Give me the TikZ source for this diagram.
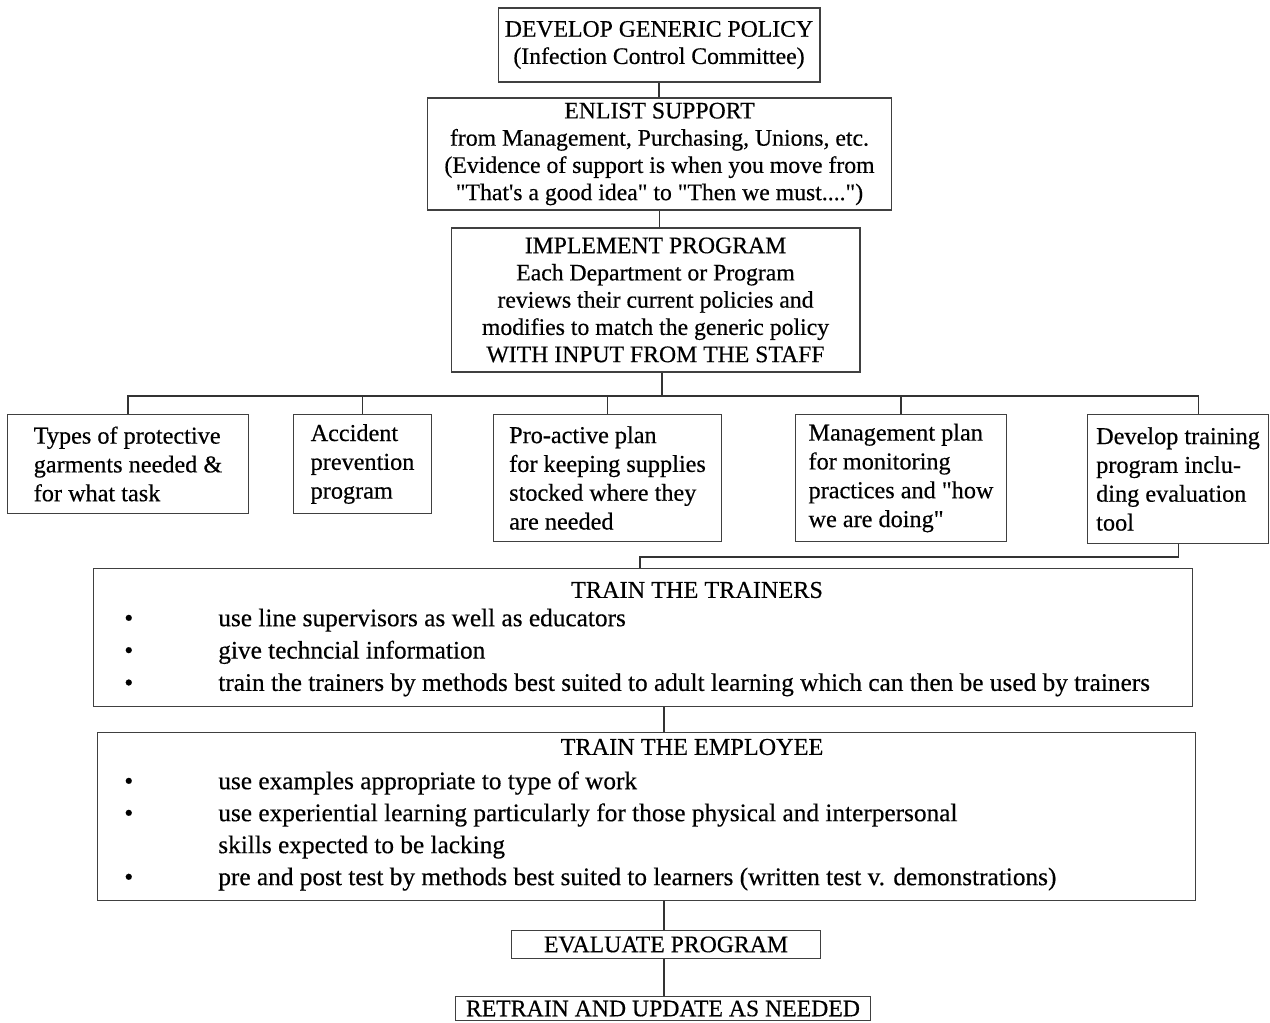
\documentclass[tikz,border=0pt]{standalone}
\usepackage{fontspec}
\setmainfont{Liberation Serif}[Ligatures=TeXOff,FakeBold=0.4]
\usetikzlibrary{calc}
\tikzset{
  box/.style={draw=black!75, line width=0.6pt, inner sep=0pt, align=center,
    font=\fontsize{13.5}{15.5}\selectfont},
  item/.style={box, anchor=north west, align=left, font=\fontsize{13.8}{16.4}\selectfont},
  head/.style={inner sep=0pt, font=\fontsize{13.8}{15.5}\selectfont},
  list/.style={anchor=west, align=left, inner sep=0pt},
  wire/.style={draw=black!80, line width=0.6pt}
}
\newcommand{\bul}{\makebox[1.88cm][l]{\textbullet}}
\newcommand{\gap}{\makebox[1.88cm]{}}
\begin{document}
\begin{tikzpicture}[x=0.02cm,y=-0.02cm]
\useasboundingbox (0,0) rectangle (1270,1023);
% policy, support, program
\node[box,minimum width=6.44cm,minimum height=1.48cm] (policy) at (659,45) {DEVELOP GENERIC POLICY\\(Infection Control Committee)};
\node[box,minimum width=9.3cm,minimum height=2.24cm] (support) at (659.5,154) {ENLIST SUPPORT\\from Management, Purchasing, Unions, etc.\\(Evidence of support is when you move from\\"That's a good idea" to "Then we must....")};
\node[box,minimum width=8.18cm,minimum height=2.88cm] (implement) at (655.5,300) {IMPLEMENT PROGRAM\\Each Department or Program\\reviews their current policies and\\modifies to match the generic policy\\WITH INPUT FROM THE STAFF};
% the five tasks
\node[item,minimum width=4.82cm,minimum height=1.98cm] (garments) at (7,414) {Types of protective\\garments needed \&\\for what task};
\node[item,minimum width=2.76cm,minimum height=1.98cm] (accident) at (293,414) {Accident\\prevention\\program};
\node[item,minimum width=4.56cm,minimum height=2.54cm] (supplies) at (493,414) {Pro-active plan\\for keeping supplies\\stocked where they\\are needed};
\node[item,minimum width=4.22cm,minimum height=2.54cm] (monitor) at (795,414) {Management plan\\for monitoring\\practices and "how\\we are doing"};
\node[item,minimum width=3.62cm,minimum height=2.58cm] (training) at (1087,414) {Develop training\\program inclu-\\ding evaluation\\tool};
% training boxes
\node[box,anchor=north west,minimum width=21.98cm,minimum height=2.76cm] (trainers) at (93,568) {};
\node[head] (trainers title) at (697,590) {TRAIN THE TRAINERS};
\node[list,font=\fontsize{14.4}{18.4}\selectfont] (trainers list) at (124,652.5) {\bul use line supervisors as well as educators\\\bul give techncial information\\\bul train the trainers by methods best suited to adult learning which can then be used by trainers};
\node[box,anchor=north west,minimum width=21.96cm,minimum height=3.36cm] (employee) at (97,732) {};
\node[head] (employee title) at (692,747) {TRAIN THE EMPLOYEE};
\node[list,font=\fontsize{14.4}{18.2}\selectfont] (employee list) at (124,831) {\bul use examples appropriate to type of work\\\bul use experiential learning particularly for those physical and interpersonal\\\gap skills expected to be lacking\\\bul pre and post test by methods best suited to learners (written test v. demonstrations)};
% last two
\node[box,anchor=north west,minimum width=6.18cm,minimum height=0.56cm] (evaluate) at (511,930) {EVALUATE PROGRAM};
\node[box,anchor=north west,minimum width=8.3cm,minimum height=0.48cm] (retrain) at (455,996) {RETRAIN AND UPDATE AS NEEDED};
% connectors
\draw[wire] (policy.south) -- (policy.south |- support.north);
\draw[wire] (support.south) -- (support.south |- implement.north);
\coordinate (bus) at (662,396);
\draw[wire] (bus |- implement.south) -- (bus);
\draw[wire] (garments.north) |- (bus) -| ($(training.north)+(20.5,0)$);
\draw[wire] (accident.north) -- (accident.north |- bus);
\draw[wire] (supplies.north) -- (supplies.north |- bus);
\draw[wire] (monitor.north) -- (monitor.north |- bus);
\coordinate (join) at (640,557);
\draw[wire] (training.south) |- (join) -- (join |- trainers.north);
\coordinate (spine) at (664,0);
\draw[wire] (spine |- trainers.south) -- (spine |- employee.north);
\draw[wire] (spine |- employee.south) -- (spine |- evaluate.north);
\draw[wire] (spine |- evaluate.south) -- (spine |- retrain.north);
\end{tikzpicture}
\end{document}
